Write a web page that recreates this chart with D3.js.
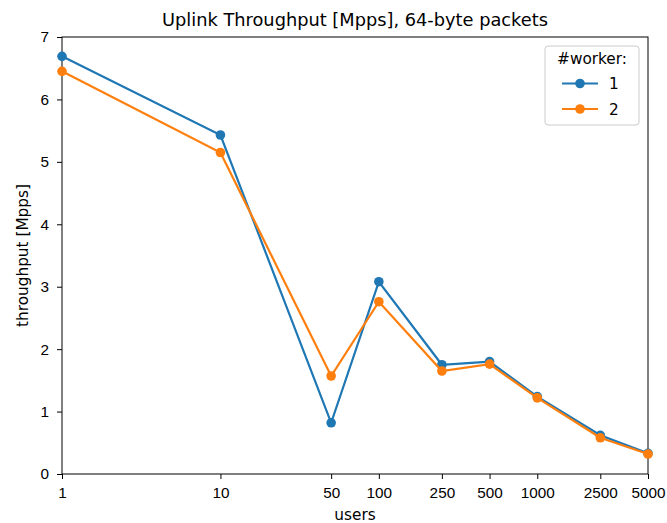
<!DOCTYPE html>
<html>
<head>
<meta charset="utf-8">
<script src="https://cdn.jsdelivr.net/npm/d3@7"></script>
<style>
  body { margin: 0; background: #fff; }
  svg { font-family: "DejaVu Sans", sans-serif; }
</style>
</head>
<body>
<div id="chart"></div>
<script>
// data
const users = [1, 10, 50, 100, 250, 500, 1000, 2500, 5000]
const worker1 = [6.69, 5.43, 0.82, 3.08, 1.75, 1.80, 1.24, 0.62, 0.33]
const worker2 = [6.45, 5.15, 1.57, 2.76, 1.65, 1.76, 1.22, 0.58, 0.32]
const xTicks = [1, 10, 50, 100, 250, 500, 1000, 2500, 5000]
const yTicks = [0, 1, 2, 3, 4, 5, 6, 7]
const seriesNames = ["1", "2"]
const colors = ["#1f77b4", "#ff7f0e"]

const width = 667,
  height = 523;
const margin = { top: 37, right: 19, bottom: 49, left: 62 };
const fontSize = "15.3px"

const svg = d3.select("#chart")
  .append("svg")
  .attr("width", width)
  .attr("height", height)

const x = d3.scaleLog()
  .domain([1, 5000])
  .range([margin.left, width - margin.right])

const y = d3.scaleLinear()
  .domain([0, 7])
  .range([height - margin.bottom, margin.top])

// axes
svg.append("g")
  .attr("transform", `translate(0,${height - margin.bottom})`)
  .call(d3.axisBottom(x).tickValues(xTicks).tickFormat(d3.format("d")).tickSizeOuter(0).tickSize(5).tickPadding(8))
svg.append("g")
  .attr("transform", `translate(${margin.left},0)`)
  .call(d3.axisLeft(y).tickValues(yTicks).tickFormat(d3.format("d")).tickSizeOuter(0).tickSize(5).tickPadding(8))

svg.selectAll(".tick text").style("font-size", fontSize).attr("fill", "#000")
svg.selectAll(".tick line").attr("stroke", "#000").attr("stroke-width", 1)
svg.selectAll(".domain").remove()

// frame
svg.append("rect")
  .attr("x", margin.left)
  .attr("y", margin.top)
  .attr("width", width - margin.left - margin.right)
  .attr("height", height - margin.top - margin.bottom)
  .attr("fill", "none")
  .attr("stroke", "#000")
  .attr("stroke-width", 1)

// lines + markers
const series = [worker1, worker2]
const line = d3.line()
  .x((d, i) => x(users[i]))
  .y(d => y(d))

series.forEach((vals, s) => {
  svg.append("path")
    .datum(vals)
    .attr("d", line)
    .attr("fill", "none")
    .attr("stroke", colors[s])
    .attr("stroke-width", 2.2)
  svg.selectAll(".dot" + s)
    .data(vals)
    .join("circle")
    .attr("cx", (d, i) => x(users[i]))
    .attr("cy", d => y(d))
    .attr("r", 4.8)
    .attr("fill", colors[s])
})

// title and labels
svg.append("text")
  .attr("x", (margin.left + width - margin.right) / 2)
  .attr("y", 26)
  .attr("text-anchor", "middle")
  .style("font-size", "17.8px")
  .text("Uplink Throughput [Mpps], 64-byte packets")

svg.append("text")
  .attr("x", (margin.left + width - margin.right) / 2)
  .attr("y", 520)
  .attr("text-anchor", "middle")
  .style("font-size", fontSize)
  .text("users")

svg.append("text")
  .attr("transform", `translate(28,${(margin.top + height - margin.bottom) / 2}) rotate(-90)`)
  .attr("text-anchor", "middle")
  .style("font-size", fontSize)
  .text("throughput [Mpps]")

// legend
const legend = svg.append("g").attr("transform", "translate(545,46)")
legend.append("rect")
  .attr("width", 94)
  .attr("height", 79)
  .attr("rx", 3)
  .attr("fill", "#fff")
  .attr("stroke", "#ccc")
  .attr("stroke-width", 1)
legend.append("text")
  .attr("x", 47)
  .attr("y", 18)
  .attr("text-anchor", "middle")
  .style("font-size", fontSize)
  .text("#worker:")
seriesNames.forEach((name, i) => {
  const ly = 37.5 + i * 25.5
  legend.append("line")
    .attr("x1", 17).attr("x2", 53)
    .attr("y1", ly).attr("y2", ly)
    .attr("stroke", colors[i])
    .attr("stroke-width", 2.2)
  legend.append("circle")
    .attr("cx", 35).attr("cy", ly)
    .attr("r", 4.8)
    .attr("fill", colors[i])
  legend.append("text")
    .attr("x", 64)
    .attr("y", ly + 5.5)
    .style("font-size", fontSize)
    .text(name)
})
</script>
</body>
</html>
